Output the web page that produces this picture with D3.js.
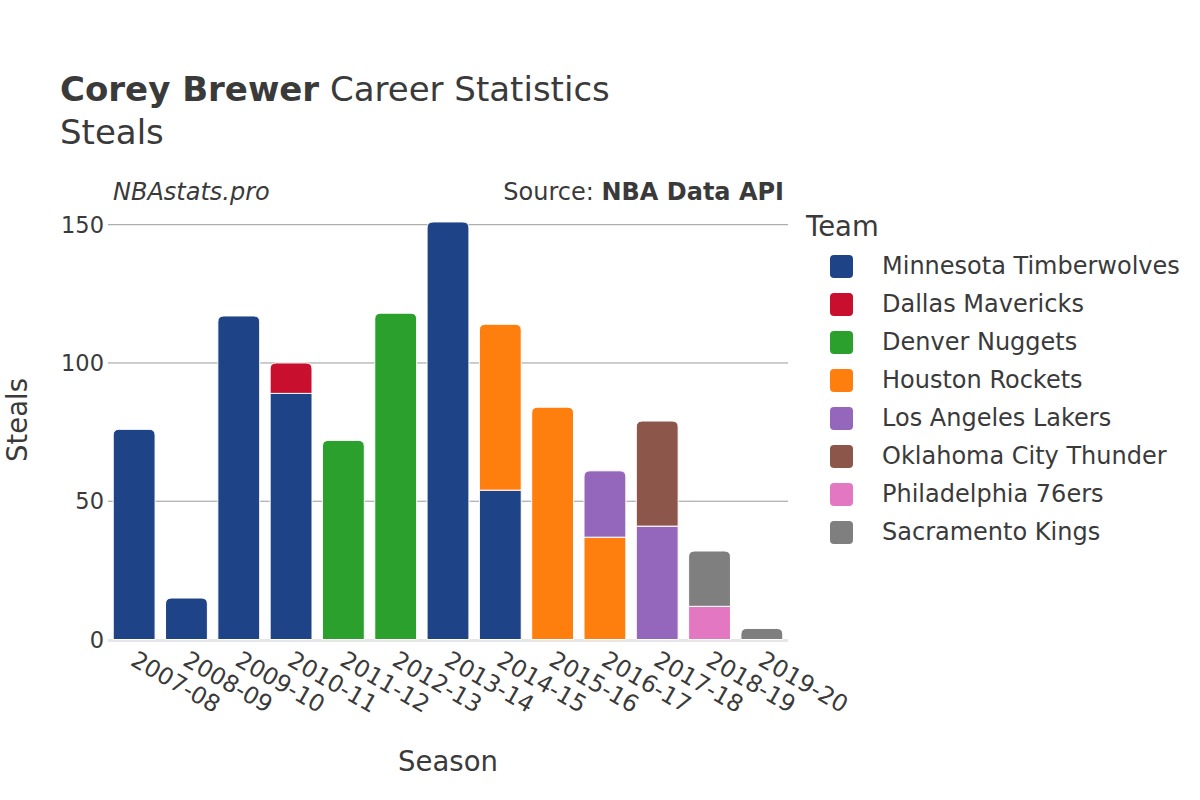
<!DOCTYPE html>
<html>
<head>
<meta charset="utf-8">
<script src="https://cdn.jsdelivr.net/npm/d3@7"></script>
<style>
  body { margin: 0; background: #fff; }
  svg { font-family: "DejaVu Sans", sans-serif; }
</style>
</head>
<body>
<div id="chart"></div>
<script>
// Steals per season, split by team (stacked in legend order)
const seasons = ['2007-08', '2008-09', '2009-10', '2010-11', '2011-12', '2012-13', '2013-14',
  '2014-15', '2015-16', '2016-17', '2017-18', '2018-19', '2019-20'];

const teams = ['Minnesota Timberwolves', 'Dallas Mavericks', 'Denver Nuggets', 'Houston Rockets',
  'Los Angeles Lakers', 'Oklahoma City Thunder', 'Philadelphia 76ers', 'Sacramento Kings'];

const teamColors = ['#1f4387', '#c8102e', '#2ca02c', '#ff7f0e', '#9467bd', '#8c564b', '#e377c2', '#7f7f7f'];

// one row per team, one value per season
const minnesota = [76, 15, 117, 89, 0, 0, 151, 54, 0, 0, 0, 0, 0];
const dallas    = [0, 0, 0, 11, 0, 0, 0, 0, 0, 0, 0, 0, 0];
const denver    = [0, 0, 0, 0, 72, 118, 0, 0, 0, 0, 0, 0, 0];
const houston   = [0, 0, 0, 0, 0, 0, 0, 60, 84, 37, 0, 0, 0];
const lakers    = [0, 0, 0, 0, 0, 0, 0, 0, 0, 24, 41, 0, 0];
const okc       = [0, 0, 0, 0, 0, 0, 0, 0, 0, 0, 38, 0, 0];
const philly    = [0, 0, 0, 0, 0, 0, 0, 0, 0, 0, 0, 12, 0];
const sacramento = [0, 0, 0, 0, 0, 0, 0, 0, 0, 0, 0, 20, 4];

const teamValues = [minnesota, dallas, denver, houston, lakers, okc, philly, sacramento];
const yTicks = [0, 50, 100, 150];

const width = 1200, height = 800;
const plot = { left: 108, right: 788, top: 224.7, bottom: 639.5 };
const textColor = '#3a3a3a';

const svg = d3.select('#chart').append('svg')
  .attr('width', width)
  .attr('height', height);

// Build table for stacking
const rows = seasons.map((s, i) => {
  const row = { season: s };
  teams.forEach((t, j) => { row[t] = teamValues[j][i]; });
  return row;
});
const stacked = d3.stack().keys(teams)(rows);

const x = d3.scaleBand()
  .domain(seasons)
  .range([plot.left, plot.right])
  .paddingInner(0.2)
  .paddingOuter(0.1);

const y = d3.scaleLinear()
  .domain([0, 150])
  .range([plot.bottom, plot.top]);

// Gridlines
svg.append('g')
  .selectAll('line')
  .data(yTicks.filter(d => d > 0))
  .enter()
  .append('line')
  .attr('x1', plot.left)
  .attr('x2', plot.right)
  .attr('y1', d => y(d))
  .attr('y2', d => y(d))
  .attr('stroke', '#9a9a9a')
  .attr('stroke-width', 1);

// Zero line
svg.append('line')
  .attr('x1', plot.left)
  .attr('x2', plot.right)
  .attr('y1', y(0) + 1)
  .attr('y2', y(0) + 1)
  .attr('stroke', '#e6e6e6')
  .attr('stroke-width', 3);

// Y axis labels
svg.append('g')
  .selectAll('text')
  .data(yTicks)
  .enter()
  .append('text')
  .attr('x', plot.left - 4)
  .attr('y', d => y(d))
  .attr('dy', '0.36em')
  .attr('text-anchor', 'end')
  .attr('font-size', 22.5)
  .attr('fill', textColor)
  .text(d => d);

// Top segment of each season gets rounded corners
const topIndex = seasons.map((s, i) => {
  let top = -1;
  teamValues.forEach((vals, j) => { if (vals[i] > 0) top = j; });
  return top;
});

function barPath(x0, w, yTop, yBot, r) {
  r = Math.min(r, (yBot - yTop), w / 2);
  return `M${x0},${yBot}V${yTop + r}Q${x0},${yTop} ${x0 + r},${yTop}` +
    `H${x0 + w - r}Q${x0 + w},${yTop} ${x0 + w},${yTop + r}V${yBot}Z`;
}

stacked.forEach((layer, j) => {
  svg.append('g')
    .selectAll('path')
    .data(layer.filter(d => d[1] - d[0] > 0))
    .enter()
    .append('path')
    .attr('d', d => {
      const i = seasons.indexOf(d.data.season);
      const r = topIndex[i] === j ? 6 : 0;
      return barPath(x(d.data.season), x.bandwidth(), y(d[1]), y(d[0]), r);
    })
    .attr('fill', teamColors[j])
    .attr('stroke', '#fff')
    .attr('stroke-width', 1);
});

// X axis labels, rotated
svg.append('g')
  .selectAll('text')
  .data(seasons)
  .enter()
  .append('text')
  .attr('transform', d => `translate(${x(d) + x.bandwidth() / 2 - 5},${y(0) + 25}) rotate(30)`)
  .attr('text-anchor', 'start')
  .attr('font-size', 23.5)
  .attr('fill', textColor)
  .text(d => d);

// Axis titles
svg.append('text')
  .attr('x', (plot.left + plot.right) / 2)
  .attr('y', 771)
  .attr('text-anchor', 'middle')
  .attr('font-size', 27.5)
  .attr('fill', textColor)
  .text('Season');

svg.append('text')
  .attr('transform', `translate(${27},${420}) rotate(-90)`)
  .attr('text-anchor', 'middle')
  .attr('font-size', 27.5)
  .attr('fill', textColor)
  .text('Steals');

// Titles
const title = svg.append('text')
  .attr('x', 60)
  .attr('y', 101)
  .attr('font-size', 34)
  .attr('fill', textColor);
title.append('tspan').attr('font-weight', 'bold').text('Corey Brewer');
title.append('tspan').text(' Career Statistics');

svg.append('text')
  .attr('x', 60)
  .attr('y', 144)
  .attr('font-size', 34)
  .attr('fill', textColor)
  .text('Steals');

svg.append('text')
  .attr('x', 113)
  .attr('y', 200)
  .attr('font-size', 24)
  .attr('font-style', 'italic')
  .attr('fill', textColor)
  .text('NBAstats.pro');

const source = svg.append('text')
  .attr('x', 784)
  .attr('y', 200)
  .attr('text-anchor', 'end')
  .attr('font-size', 24)
  .attr('fill', textColor);
source.append('tspan').text('Source: ');
source.append('tspan').attr('font-weight', 'bold').text('NBA Data API');

// Legend
const legend = svg.append('g');
legend.append('text')
  .attr('x', 806)
  .attr('y', 236)
  .attr('font-size', 27.5)
  .attr('fill', textColor)
  .text('Team');

const items = legend.selectAll('g.item')
  .data(teams)
  .enter()
  .append('g')
  .attr('class', 'item')
  .attr('transform', (d, i) => `translate(0,${266 + i * 38})`);

items.append('rect')
  .attr('x', 830)
  .attr('y', -11)
  .attr('width', 23)
  .attr('height', 23)
  .attr('rx', 4)
  .attr('fill', (d, i) => teamColors[i]);

items.append('text')
  .attr('x', 882)
  .attr('y', 0)
  .attr('dy', '0.35em')
  .attr('font-size', 24)
  .attr('fill', textColor)
  .text(d => d);
</script>
</body>
</html>
